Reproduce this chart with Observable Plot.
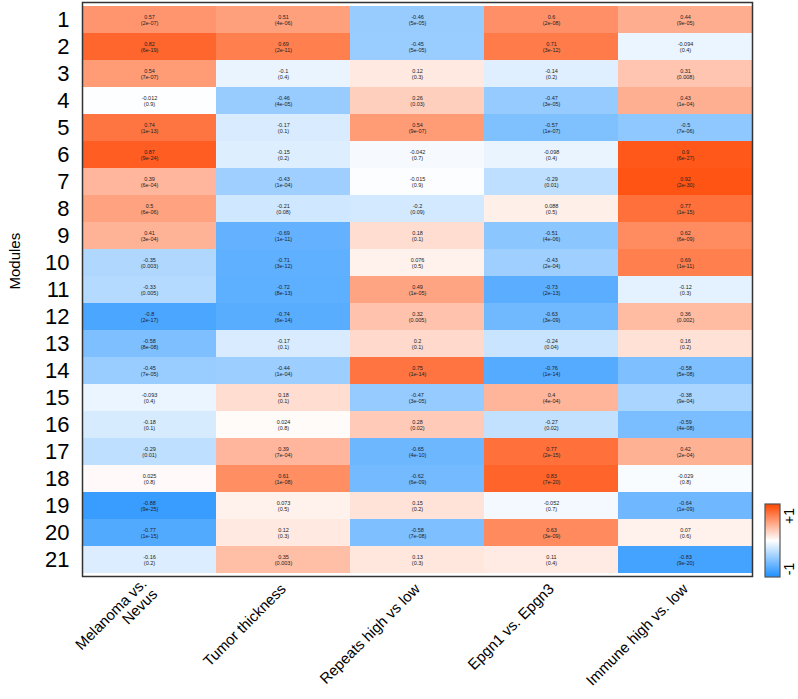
<!DOCTYPE html>
<html>
<head>
<meta charset="utf-8">
<script src="https://cdn.jsdelivr.net/npm/d3@7"></script>
<script src="https://cdn.jsdelivr.net/npm/@observablehq/plot@0.6"></script>
<style>
  html, body { margin: 0; padding: 0; background: #fff; }
  #wrap { position: relative; width: 798px; height: 699px; font-family: "Liberation Sans", Arial, sans-serif; }
  #legend { position: absolute; left: 758px; top: 498px; }
</style>
</head>
<body>
<div id="wrap"><div id="chart"></div><svg id="legend" width="40" height="90"></svg></div>
<script>
const modules = Array.from({length: 21}, (_, i) => String(i + 1));
const traits = ["Melanoma vs.\nNevus", "Tumor thickness", "Repeats high vs low", "Epgn1 vs. Epgn3", "Immune high vs. low"];

const corMelanoma = [0.57, 0.82, 0.54, -0.012, 0.74, 0.87, 0.39, 0.5, 0.41, -0.35, -0.33, -0.8, -0.58, -0.45, -0.093, -0.18, -0.29, 0.025, -0.88, -0.77, -0.16];
const pMelanoma = ["2e-07","6e-19","7e-07","0.9","1e-13","9e-24","6e-04","6e-06","3e-04","0.003","0.005","2e-17","8e-08","7e-05","0.4","0.1","0.01","0.8","9e-25","1e-15","0.2"];

const corThickness = [0.51, 0.69, -0.1, -0.46, -0.17, -0.15, -0.43, -0.21, -0.69, -0.71, -0.72, -0.74, -0.17, -0.44, 0.18, 0.024, 0.39, 0.61, 0.073, 0.12, 0.35];
const pThickness = ["4e-06","2e-11","0.4","4e-05","0.1","0.2","1e-04","0.08","1e-11","3e-12","8e-13","6e-14","0.1","1e-04","0.1","0.8","7e-04","1e-08","0.5","0.3","0.003"];

const corRepeats = [-0.46, -0.45, 0.12, 0.26, 0.54, -0.042, -0.015, -0.2, 0.18, 0.076, 0.49, 0.32, 0.2, 0.75, -0.47, 0.28, -0.65, -0.62, 0.15, -0.58, 0.13];
const pRepeats = ["5e-05","5e-05","0.3","0.03","9e-07","0.7","0.9","0.09","0.1","0.5","1e-05","0.005","0.1","1e-14","3e-05","0.02","4e-10","6e-09","0.2","7e-08","0.3"];

const corEpgn = [0.6, 0.71, -0.14, -0.47, -0.57, -0.098, -0.29, 0.088, -0.51, -0.43, -0.73, -0.63, -0.24, -0.76, 0.4, -0.27, 0.77, 0.83, -0.052, 0.63, 0.11];
const pEpgn = ["2e-08","3e-12","0.2","3e-05","1e-07","0.4","0.01","0.5","4e-06","2e-04","2e-13","3e-09","0.04","1e-14","4e-04","0.02","2e-15","7e-20","0.7","3e-09","0.4"];

const corImmune = [0.44, -0.094, 0.31, 0.43, -0.5, 0.9, 0.92, 0.77, 0.62, 0.69, -0.12, 0.36, 0.16, -0.58, -0.38, -0.59, 0.42, -0.029, -0.64, 0.07, -0.83];
const pImmune = ["9e-05","0.4","0.008","1e-04","7e-06","6e-27","2e-30","1e-15","6e-09","1e-11","0.3","0.002","0.2","5e-08","9e-04","4e-08","2e-04","0.8","1e-09","0.6","9e-20"];

const legendTicks = ["+1", "-1"];

const corCols = [corMelanoma, corThickness, corRepeats, corEpgn, corImmune];
const pCols = [pMelanoma, pThickness, pRepeats, pEpgn, pImmune];
const data = [];
traits.forEach((t, j) => {
  modules.forEach((m, i) => {
    data.push({trait: t, module: m, r: corCols[j][i], p: pCols[j][i]});
  });
});

const colorRange = ["#1E90FF", "#FFFFFF", "#FF4500"];

const chart = Plot.plot({
  width: 798,
  height: 699,
  marginLeft: 82,
  marginRight: 46,
  marginTop: 2,
  marginBottom: 123,
  style: {fontFamily: "Liberation Sans, Arial, sans-serif", color: "#000", background: "#fff"},
  x: {domain: traits, padding: 0, axis: null},
  y: {domain: modules, padding: 0, axis: null},
  color: {type: "linear", domain: [-1, 0, 1], range: colorRange, interpolate: "rgb"},
  marks: [
    Plot.cell(data, {x: "trait", y: "module", fill: "r"}),
    Plot.text(data, {x: "trait", y: "module", text: d => `${d.r}\n(${d.p})`, fontSize: 5.5, fill: "#222", lineHeight: 1.1}),
    Plot.frame({stroke: "#333", strokeWidth: 1.5}),
    Plot.axisY({tickSize: 0, tickPadding: 13, fontSize: 22, label: null}),
    Plot.axisX({tickSize: 0, tickPadding: 10, tickRotate: -45, fontSize: 15, label: null}),
    Plot.text(["Modules"], {frameAnchor: "left", dx: -67, rotate: -90, fontSize: 15, fill: "#000"})
  ]
});
document.getElementById("chart").appendChild(chart);

// Color bar legend built from the same Plot color scale
const scale = chart.scale("color");
const svg = d3.select("#legend");
const grad = svg.append("defs").append("linearGradient")
  .attr("id", "lg").attr("x1", 0).attr("y1", 1).attr("x2", 0).attr("y2", 0);
d3.range(0, 1.0001, 0.05).forEach(t => {
  grad.append("stop").attr("offset", t).attr("stop-color", scale.apply(-1 + 2 * t));
});
svg.append("rect").attr("x", 7).attr("y", 6).attr("width", 15).attr("height", 73)
  .attr("fill", "url(#lg)").attr("stroke", "#555").attr("stroke-width", 1.2);
const ly = [18, 71];
legendTicks.forEach((lab, i) => {
  svg.append("text").attr("transform", `translate(36,${ly[i]}) rotate(-90)`)
    .attr("text-anchor", "middle").attr("font-size", 14)
    .attr("font-family", "Liberation Sans, Arial, sans-serif").text(lab);
});
</script>
</body>
</html>
